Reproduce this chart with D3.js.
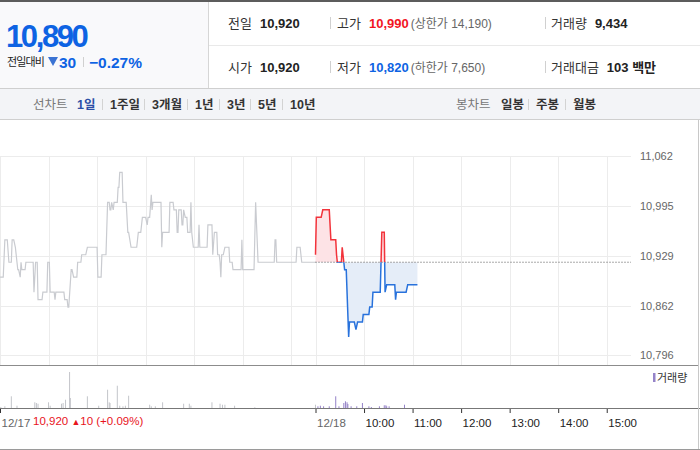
<!DOCTYPE html>
<html>
<head>
<meta charset="UTF-8">
<title>시세 차트</title>
<script src="https://cdn.jsdelivr.net/npm/d3@7"></script>
<style>
body{margin:0;background:#fff;}
svg text{font-family:"Liberation Sans",Arial,"Noto Sans CJK KR",sans-serif;}
</style>
</head>
<body>
<script>
// 12/17 (전일) 체결가: 구간 시작분, 끝분(09:00 기준), 가격
var d1Start=[0,6,11,15,19,20,21,22,25,26,27,32,42,44,47,53,59,62,68,69,80,84,88,91,96,101,108,121,126,133,136,138,140,141,146,148,152,158,162,171,176,182,183,187,188,189,200,201,210,215,219,221,225,227,229,232,236,237,239,246,247,257,263,265,269,272,273,274,278,284,288,299,300,316,319,340,342,367,373];
var d1End=[4,9,14,17,19,20,21,23,25,26,31,41,42,46,52,58,61,67,68,79,83,85,89,95,100,106,120,125,131,135,137,138,140,145,147,151,156,159,169,174,180,182,185,187,188,199,200,209,214,218,220,224,226,227,231,235,236,237,245,246,256,262,263,268,271,272,273,276,283,287,298,299,314,316,339,341,366,371,390];
var d1Price=[10900,10950,10920,10950,10940,10930,10920,10910,10900,10920,10910,10920,10880,10920,10870,10880,10920,10880,10870,10880,10870,10860,10910,10900,10920,10930,10940,10900,10930,11000,10990,11000,10990,11000,11020,11040,11000,10960,10940,10960,10980,10970,10980,11010,10990,11000,10940,10960,11000,10990,10960,10990,10970,10990,10980,10960,11000,10960,10940,10970,10940,10970,10930,10960,10930,10920,10900,10930,10940,10920,10910,10950,10910,11000,10920,10950,10920,10940,10920];

// 12/18 (당일)
var d2Start=[0,1,9,19,26,27,33,35,36,41,42,50,52,59,67,71,82,86,88,99,100,114];
var d2End=[0,7,17,25,26,32,33,35,38,41,48,50,58,66,70,80,85,86,98,99,112,126];
var d2Price=[10930,10980,10990,10950,10930,10920,10940,10920,10910,10820,10840,10830,10840,10850,10860,10880,10960,10880,10890,10870,10880,10890];

// 거래량
var v1Min=[1,6,14,21,43,45,47,60,62,76,78,81,86,87,108,122,133,135,136,145,148,152,155,159,185,187,192,201,227,234,236,262,272,275,278,290,315,390];
var v1Vol=[140,240,1640,320,800,700,600,800,320,600,700,1160,5040,1400,1640,320,2560,800,700,3120,320,240,320,1720,460,240,240,800,600,600,320,800,600,460,460,320,100,460];
var v2Min=[3,6,10,17,25,29,35,37,39,40,44,51,58,66,69,79,85,87,88,91,110];
var v2Vol=[240,320,240,240,1640,240,700,940,800,560,240,240,700,240,140,240,380,380,240,240,460];

var prevClose=10920;
var yTicks=[10796,10862,10929,10995,11062];
var tickMins=[0,390,450,510,570,630,690,750];
var tickLabels=["12/17","12/18","10:00","11:00","12:00","13:00","14:00","15:00"];
var gridMins=[0,60,120,180,240,300,360,390,450,510,570,630,690,750];

var w=700,h=450;
var svg=d3.select('body').append('svg').attr('width',w).attr('height',h);

// ---- 상단 시세 박스 ----
svg.append('rect').attr('x',0).attr('y',0).attr('width',w).attr('height',2).attr('fill','#5c5c5c');
svg.append('rect').attr('x',0).attr('y',2).attr('width',208).attr('height',86).attr('fill','#f9f9fb');
svg.append('line').attr('x1',208.5).attr('x2',208.5).attr('y1',2).attr('y2',88).attr('stroke','#d6d6d6');
svg.append('line').attr('x1',209).attr('x2',w).attr('y1',45.5).attr('y2',45.5).attr('stroke','#e9e9e9');
svg.append('rect').attr('x',0).attr('y',88).attr('width',w).attr('height',31).attr('fill','#f3f4f7');
svg.append('line').attr('x1',0).attr('x2',w).attr('y1',88.5).attr('y2',88.5).attr('stroke','#cfcfcf');
svg.append('line').attr('x1',0).attr('x2',w).attr('y1',119.5).attr('y2',119.5).attr('stroke','#cfcfcf');

var blue='#0e63e3',red='#f2151f';
svg.append('text').attr('x',6).attr('y',46.5).attr('font-size',31).attr('font-weight','bold')
  .attr('letter-spacing',-2.4).attr('fill',blue).text('10,890');
svg.append('text').attr('x',7).attr('y',66).attr('font-size',11).attr('letter-spacing',-0.9).attr('fill','#222').text('전일대비');
svg.append('path').attr('d','M48,57 L58,57 L53,66 Z').attr('fill','#3b73d3');
svg.append('text').attr('x',59).attr('y',68).attr('font-size',15.5).attr('font-weight','bold').attr('fill',blue).text('30');
svg.append('line').attr('x1',83.5).attr('x2',83.5).attr('y1',57).attr('y2',67).attr('stroke','#d0d0d0');
svg.append('text').attr('x',89).attr('y',68).attr('font-size',15.5).attr('font-weight','bold').attr('fill',blue).text('−0.27%');

function info(x,y,label,val,col,extra){
  var t=svg.append('text').attr('x',x).attr('y',y).attr('font-size',13);
  t.append('tspan').attr('fill','#333').text(label);
  t.append('tspan').attr('dx',8).attr('font-weight','bold').attr('fill',col).text(val);
  if(extra) t.append('tspan').attr('dx',2).attr('font-size',12).attr('fill','#666').text(extra);
}
info(228,28,'전일','10,920','#222');
info(337,28,'고가','10,990',red,'(상한가 14,190)');
info(551,28,'거래량','9,434','#222');
info(228,72,'시가','10,920','#222');
info(337,72,'저가','10,820',blue,'(하한가 7,650)');
info(551,72,'거래대금','103 백만','#222');
[[330,17],[545,17],[330,61],[545,61]].forEach(function(p){
  svg.append('line').attr('x1',p[0]+0.5).attr('x2',p[0]+0.5).attr('y1',p[1]).attr('y2',p[1]+12).attr('stroke','#d0d0d0');
});

// 탭
var tabs=[['선차트',33,'#777','normal'],['1일',77,'#2b4ea6','bold'],['1주일',110,'#333','bold'],['3개월',152,'#333','bold'],
  ['1년',195,'#333','bold'],['3년',227,'#333','bold'],['5년',258,'#333','bold'],['10년',290,'#333','bold'],
  ['봉차트',456,'#777','normal'],['일봉',501,'#333','bold'],['주봉',536,'#333','bold'],['월봉',573,'#333','bold']];
tabs.forEach(function(t,i){
  svg.append('text').attr('x',t[1]).attr('y',108.5).attr('font-size',12.5).attr('font-weight',t[3]).attr('fill',t[2]).text(t[0]);
  if(i>=2&&i!=8&&i!=9){
    svg.append('line').attr('x1',t[1]-7.5).attr('x2',t[1]-7.5).attr('y1',99).attr('y2',110).attr('stroke','#d3d3d3');
  }
});

// ---- 차트 ----
var plotR=631;
var x=d3.scaleLinear().domain([0,780]).range([0,plotR]);
var y=d3.scaleLinear().domain([10796,11062]).range([355,156]);
var yv=d3.scaleLinear().domain([0,5040]).range([408,372]);

var grid=svg.append('g').attr('stroke','#ececec').attr('stroke-width',1);
grid.selectAll('.hg').data(yTicks).enter().append('line')
  .attr('x1',0).attr('x2',plotR).attr('y1',function(d){return Math.round(y(d))+0.5;}).attr('y2',function(d){return Math.round(y(d))+0.5;});
grid.selectAll('.vg').data(gridMins).enter().append('line')
  .attr('x1',function(d){return Math.round(x(d))+0.5;}).attr('x2',function(d){return Math.round(x(d))+0.5;})
  .attr('y1',156).attr('y2',365);

var yAxis=d3.axisRight(y).tickValues(yTicks).tickSize(0).tickPadding(0).tickFormat(d3.format(','));
var ya=svg.append('g').attr('transform','translate(640,0)').call(yAxis);
ya.select('.domain').remove();
ya.selectAll('text').attr('font-size',11).attr('fill','#666').attr('font-family','"Liberation Sans",Arial,sans-serif');

function toPts(s,e,p,off){
  var pts=[];
  s.forEach(function(d,i){ pts.push([s[i]+off,p[i]]); pts.push([e[i]+off,p[i]]); });
  return pts;
}
var pts1=toPts(d1Start,d1End,d1Price,0);
var pts2=toPts(d2Start,d2End,d2Price,390);

var line=d3.line().x(function(d){return x(d[0]);}).y(function(d){return y(d[1]);});
var baseY=y(prevClose);
var area=d3.area().x(function(d){return x(d[0]);}).y0(baseY).y1(function(d){return y(d[1]);});

var defs=svg.append('defs');
defs.append('clipPath').attr('id','up').append('rect').attr('x',0).attr('y',0).attr('width',plotR).attr('height',baseY);
defs.append('clipPath').attr('id','dn').append('rect').attr('x',0).attr('y',baseY).attr('width',plotR).attr('height',365-baseY);

svg.append('path').datum(pts2).attr('d',area).attr('fill','#fde3e6').attr('clip-path','url(#up)');
svg.append('path').datum(pts2).attr('d',area).attr('fill','#e5edf8').attr('clip-path','url(#dn)');

svg.append('path').datum(pts1).attr('d',line).attr('fill','none').attr('stroke','#c9cbd0').attr('stroke-width',1.2);

svg.append('line').attr('x1',x(390)).attr('x2',plotR).attr('y1',baseY).attr('y2',baseY)
  .attr('stroke','#555').attr('stroke-dasharray','1,2');

svg.append('path').datum(pts2).attr('d',line).attr('fill','none').attr('stroke','#f2333b').attr('stroke-width',1.5).attr('clip-path','url(#up)');
svg.append('path').datum(pts2).attr('d',line).attr('fill','none').attr('stroke','#2872dc').attr('stroke-width',1.5).attr('clip-path','url(#dn)');

// 가격/거래량 경계
svg.append('line').attr('x1',0).attr('x2',698).attr('y1',365.5).attr('y2',365.5).attr('stroke','#8c8c8c');

// 거래량 막대
svg.selectAll('.v1').data(v1Min).enter().append('rect')
  .attr('x',function(d){return x(d)-0.5;}).attr('width',1)
  .attr('y',function(d,i){return yv(v1Vol[i]);}).attr('height',function(d,i){return 408-yv(v1Vol[i]);})
  .attr('fill','#c3c5ca');
svg.selectAll('.v2').data(v2Min).enter().append('rect')
  .attr('x',function(d){return x(d+390)-0.5;}).attr('width',1)
  .attr('y',function(d,i){return yv(v2Vol[i]);}).attr('height',function(d,i){return 408-yv(v2Vol[i]);})
  .attr('fill','#9583c8');

svg.append('rect').attr('x',653).attr('y',373).attr('width',2.5).attr('height',9).attr('fill','#9583c8');
svg.append('text').attr('x',657).attr('y',382).attr('font-size',11).attr('fill','#333').text('거래량');

// 하단 시간축
var xAxis=d3.axisBottom(x).tickValues(tickMins).tickSize(5).tickPadding(6)
  .tickFormat(function(d,i){return tickLabels[i];});
var xa=svg.append('g').attr('transform','translate(0,408)').call(xAxis);
xa.select('.domain').remove();
xa.selectAll('line').attr('stroke','#333');
xa.selectAll('text').attr('text-anchor','start').attr('dx',1).attr('font-size',11.5)
  .attr('fill',function(d,i){return i<2?'#666':'#222';}).attr('font-family','"Liberation Sans",Arial,sans-serif');
svg.append('line').attr('x1',0).attr('x2',w).attr('y1',408.5).attr('y2',408.5).attr('stroke','#777');

var pc=svg.append('text').attr('x',33).attr('y',425).attr('font-size',11.5).attr('fill','#e8141c');
pc.append('tspan').text('10,920 ');
pc.append('tspan').text('▲').attr('font-size',9);
pc.append('tspan').text('10 (+0.09%)');

svg.append('line').attr('x1',698.5).attr('x2',698.5).attr('y1',120).attr('y2',h).attr('stroke','#c8c8c8');
svg.append('line').attr('x1',0).attr('x2',w).attr('y1',449.5).attr('y2',449.5).attr('stroke','#9a9a9a');
</script>
</body>
</html>
